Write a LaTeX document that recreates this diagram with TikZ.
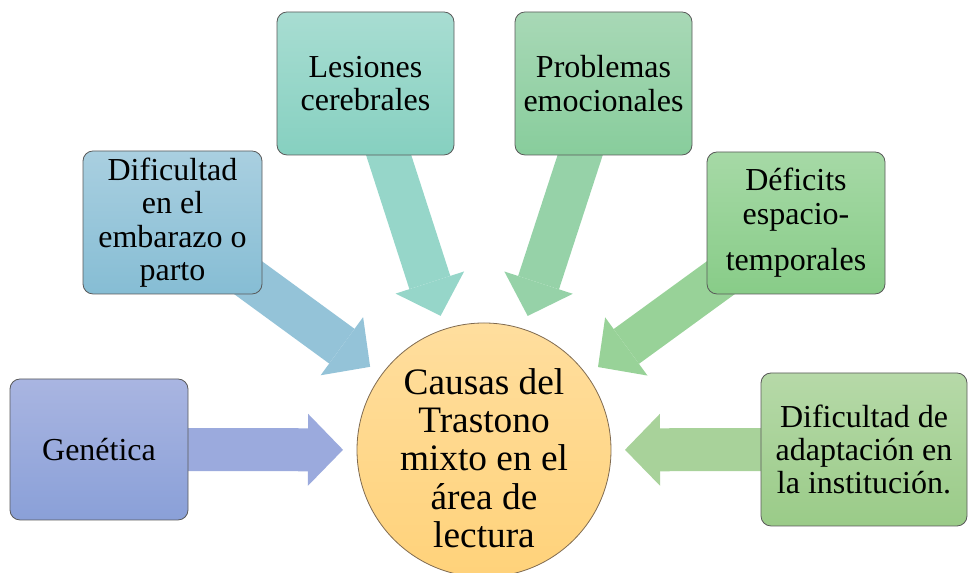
\documentclass[tikz,border=0pt]{standalone}
\usepackage{fontspec}
\setmainfont{Liberation Serif}
\usetikzlibrary{arrows.meta,backgrounds}

\definecolor{genTop}{HTML}{A9B5E1}
\definecolor{genBot}{HTML}{8AA0D8}
\definecolor{genArr}{HTML}{9BAADD}
\definecolor{embTop}{HTML}{A9CFE0}
\definecolor{embBot}{HTML}{86BDD4}
\definecolor{embArr}{HTML}{94C3D8}
\definecolor{lesTop}{HTML}{A8DDD2}
\definecolor{lesBot}{HTML}{86D0C0}
\definecolor{lesArr}{HTML}{96D6C9}
\definecolor{proTop}{HTML}{A8D8B6}
\definecolor{proBot}{HTML}{88CD9C}
\definecolor{proArr}{HTML}{96D2A8}
\definecolor{defTop}{HTML}{A6D9A6}
\definecolor{defBot}{HTML}{88CC88}
\definecolor{defArr}{HTML}{98D298}
\definecolor{adaTop}{HTML}{B6D9A8}
\definecolor{adaBot}{HTML}{9ACB88}
\definecolor{adaArr}{HTML}{A8D29A}
\definecolor{hubTop}{HTML}{FFDE9E}
\definecolor{hubBot}{HTML}{FFD27A}
\definecolor{hubLine}{HTML}{7F6A50}

\begin{document}
\begin{tikzpicture}[x=0.75pt, y=0.75pt,
    box/.style = {shape=rectangle, rounded corners=7.5pt,
      draw=black!65, line width=0.6pt, align=center, inner sep=2pt,
      font=\fontsize{24}{25}\selectfont},
    hub/.style = {shape=circle, draw=hubLine, line width=0.6pt,
      top color=hubTop, bottom color=hubBot,
      minimum size=190.5pt, inner sep=0pt},
    hubtext/.style = {align=center, inner sep=0pt,
      font=\fontsize{28}{28.7}\selectfont},
    fat/.style = {line width=32.25pt, shorten >=105.75pt,
      -{Triangle[length=26.25pt, width=54pt, line width=0pt]}}]
    \useasboundingbox (0,0) rectangle (968,573);
    \node[hub] (hub) at (484,123) {};
    \node[hubtext] (hubtxt) at ([yshift=-6pt]hub.center)
      {Causas del\\Trastono\\mixto en el\\área de\\lectura};
    \node[box, top color=genTop, bottom color=genBot,
      minimum width=133.5pt, minimum height=105.75pt] (gen) at (99,123.5) {Genética};
    \node[box, top color=embTop, bottom color=embBot,
      minimum width=134.25pt, minimum height=107.25pt] (emb) at (172.5,350.5)
      {Dificultad\\en el\\embarazo o\\parto};
    \node[box, top color=lesTop, bottom color=lesBot,
      minimum width=132.75pt, minimum height=107.25pt] (les) at (365.5,489.5)
      {Lesiones\\cerebrales};
    \node[box, top color=proTop, bottom color=proBot,
      minimum width=132.75pt, minimum height=107.25pt] (pro) at (603.5,489.5)
      {Problemas\\emocionales};
    \node[box, top color=defTop, bottom color=defBot,
      minimum width=133.5pt, minimum height=106.5pt] (def) at (796,350)
      {Déficits\\espacio-\\[10pt]temporales};
    \node[box, top color=adaTop, bottom color=adaBot,
      minimum width=154.5pt, minimum height=114.75pt] (ada) at (864,123.5)
      {Dificultad de\\adaptación en\\la institución.};
    \begin{pgfonlayer}{background}
      \draw[fat, genArr] (gen.center) -- (hub.center);
      \draw[fat, embArr] (emb.center) -- (hub.center);
      \draw[fat, lesArr] (les.center) -- (hub.center);
      \draw[fat, proArr] (pro.center) -- (hub.center);
      \draw[fat, defArr] (def.center) -- (hub.center);
      \draw[fat, adaArr] (ada.center) -- (hub.center);
    \end{pgfonlayer}
\end{tikzpicture}
\end{document}
